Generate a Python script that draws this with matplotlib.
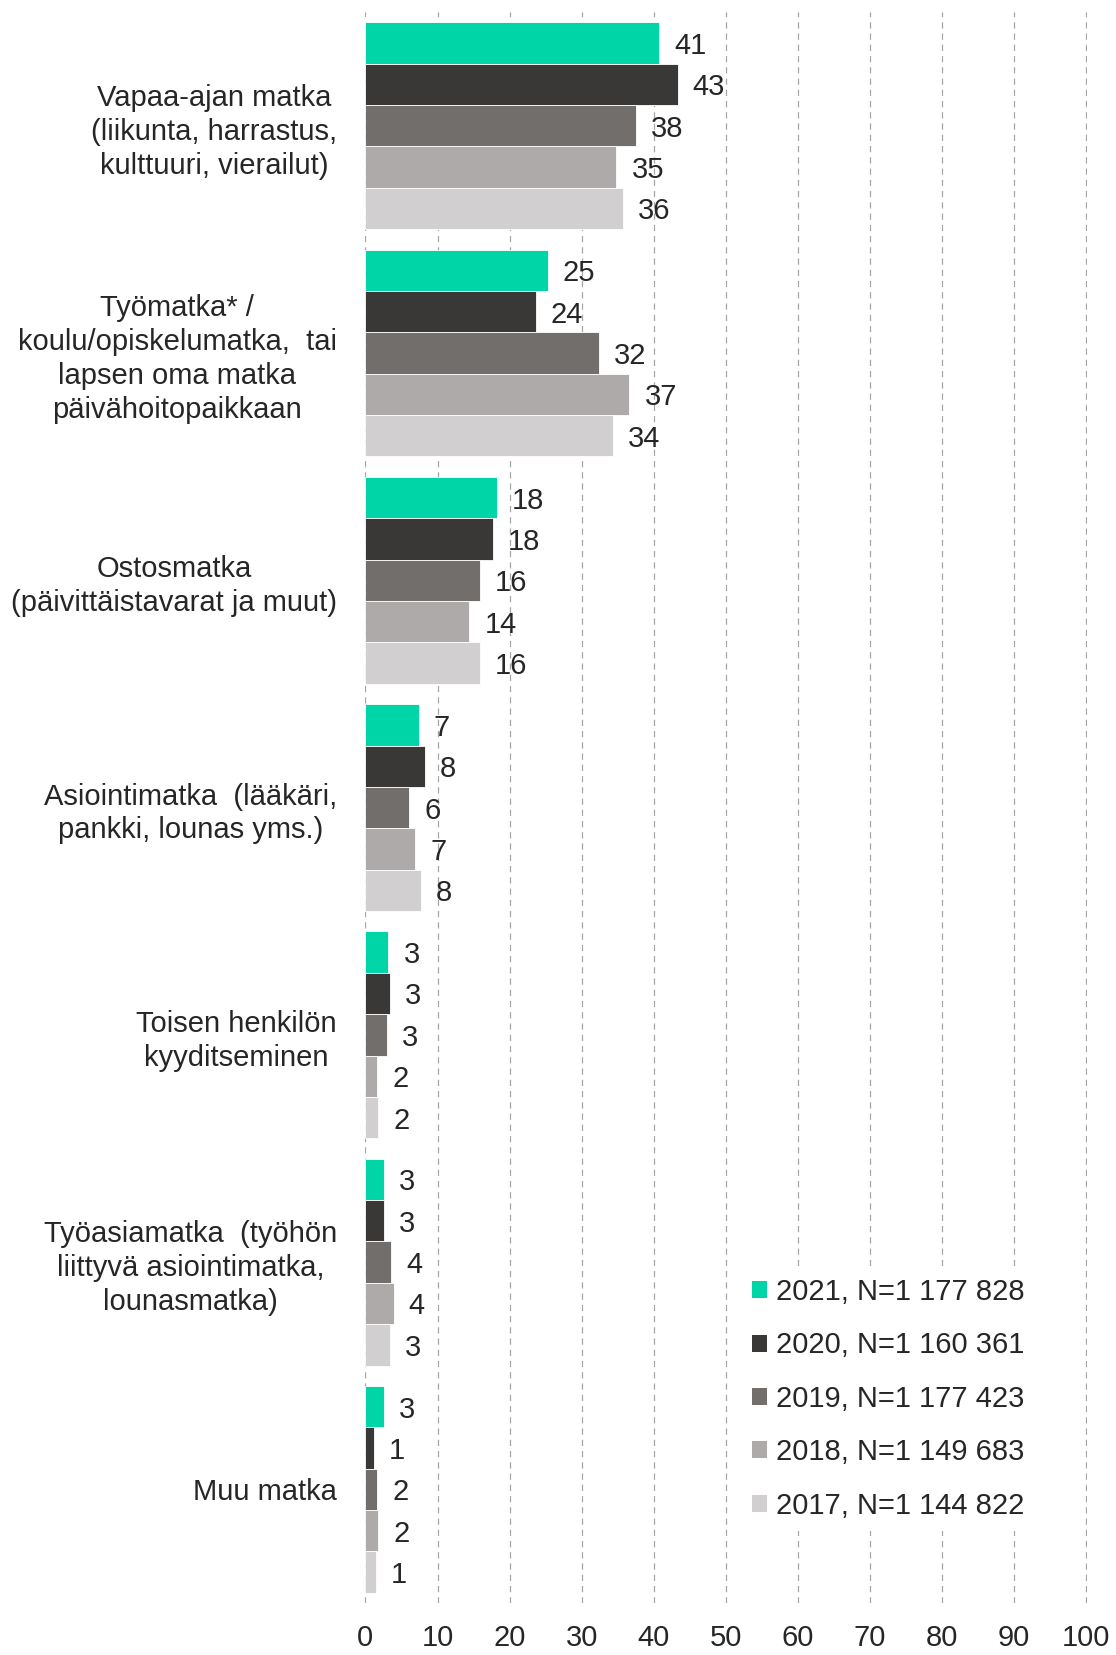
import numpy as np
import matplotlib
matplotlib.use("Agg")
import matplotlib.pyplot as plt
from matplotlib.patches import Patch

plt.rcParams['font.family'] = ['Liberation Sans', 'DejaVu Sans']

# Matkan tarkoitus, osuudet (%)
categories = [
    "Vapaa-ajan matka\n(liikunta, harrastus,\nkulttuuri, vierailut)",
    "Työmatka* /\nkoulu/opiskelumatka,  tai\nlapsen oma matka\npäivähoitopaikkaan",
    "Ostosmatka\n(päivittäistavarat ja muut)",
    "Asiointimatka  (lääkäri,\npankki, lounas yms.)",
    "Toisen henkilön\nkyyditseminen",
    "Työasiamatka  (työhön\nliittyvä asiointimatka,\nlounasmatka)",
    "Muu matka",
]
years = ["2021, N=1 177 828", "2020, N=1 160 361", "2019, N=1 177 423",
         "2018, N=1 149 683", "2017, N=1 144 822"]
v2021 = [40.7, 25.3, 18.2, 7.4, 3.2, 2.6, 2.6]
v2020 = [43.3, 23.6, 17.7, 8.2, 3.4, 2.6, 1.15]
v2019 = [37.5, 32.4, 15.9, 6.1, 3.0, 3.6, 1.6]
v2018 = [34.8, 36.6, 14.4, 6.9, 1.6, 3.9, 1.8]
v2017 = [35.7, 34.3, 15.9, 7.7, 1.75, 3.4, 1.4]
colors = ["#00D5A8", "#3A3836", "#726E6C", "#AEAAA9", "#D1CFD0"]

series = [v2021, v2020, v2019, v2018, v2017]
fs = 21

fig = plt.figure(figsize=(11.16, 16.55), dpi=100)
ax = fig.add_axes([0.3268, 0.0314, 0.6472, 0.9613])

y = np.arange(len(categories))
h = 0.182
for i, vals in enumerate(series):
    pos = y - 2 * h + i * h
    ax.barh(pos, vals, height=h, color=colors[i], edgecolor="white",
            linewidth=0.6, zorder=3)
    for p, v in zip(pos, vals):
        ax.text(v + 2.1, p, f"{v:.0f}", va="center_baseline", ha="left",
                fontsize=fs, color="#262626", zorder=4)

ax.set_xlim(-0.1, 100.1)
ax.set_ylim(6.5, -0.5)
ax.set_xticks(range(0, 101, 10))
ax.set_yticks(y)
ax.set_yticklabels(categories, multialignment="center", linespacing=1.27)
ax.tick_params(axis="both", length=0, labelsize=fs, colors="#262626")
ax.tick_params(axis="y", pad=20)
ax.tick_params(axis="x", pad=15)
for s in ax.spines.values():
    s.set_visible(False)
ax.grid(axis="x", color="#A6A6A6", linestyle=(0, (5, 4)), linewidth=0.9, zorder=0)
ax.set_axisbelow(True)

handles = [Patch(facecolor=c, edgecolor="none") for c in colors]
leg = ax.legend(handles, years, loc="lower left", bbox_to_anchor=(0.5, 0.036),
                fontsize=fs, frameon=True, facecolor="white", edgecolor="none",
                framealpha=1, handlelength=0.52, handleheight=0.52,
                handletextpad=0.3, labelspacing=0.87, borderpad=0.4)
for t in leg.get_texts():
    t.set_color("#262626")

plt.savefig("out.png", dpi=100)
